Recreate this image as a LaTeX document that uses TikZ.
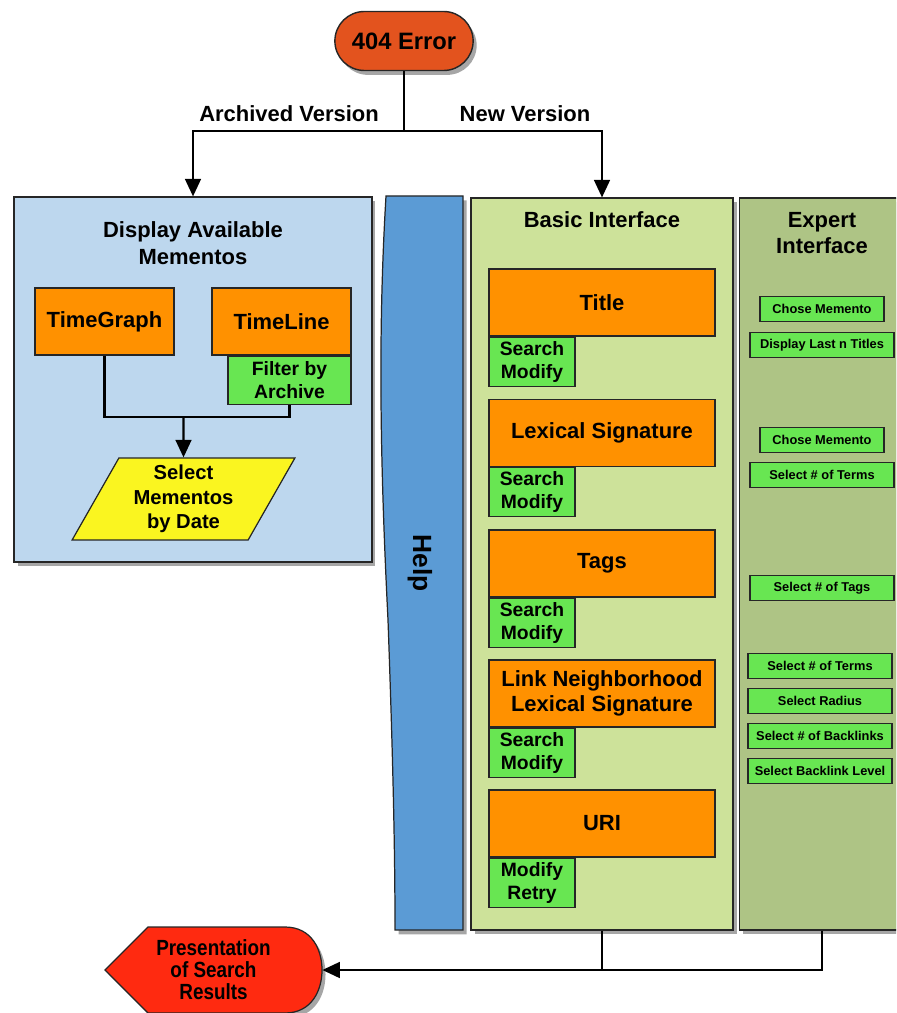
\documentclass[tikz,border=0pt]{standalone}
\usepackage{fontspec}
\setmainfont{Liberation Sans}
\newfontfamily\narrowsans[FakeStretch=0.86]{Liberation Sans}
\usetikzlibrary{arrows.meta, shapes.geometric, shapes.misc, positioning, shadows}

\definecolor{errred}{RGB}{227,83,30}
\definecolor{panelblue}{RGB}{189,215,238}
\definecolor{boxorange}{RGB}{255,145,0}
\definecolor{subgreen}{RGB}{104,230,82}
\definecolor{dateyellow}{RGB}{250,245,32}
\definecolor{helpblue}{RGB}{91,155,213}
\definecolor{basicgreen}{RGB}{205,226,154}
\definecolor{expertgreen}{RGB}{174,196,133}
\definecolor{presred}{RGB}{255,42,16}

\begin{document}
\begin{tikzpicture}[
  x=0.02cm, y=-0.02cm,
  font=\bfseries,
  softshadow/.style={drop shadow={shadow xshift=2pt, shadow yshift=-2.5pt, opacity=0.35, fill=black}},
  panel/.style={draw=black!85, line width=0.7pt, fill=#1, softshadow},
  hdr/.style={font=\fontsize{12.5}{15}\selectfont\bfseries, align=center},
  errbox/.style={rounded rectangle, draw=black!85, line width=0.8pt, fill=errred, softshadow,
                 minimum width=3.0cm, minimum height=1.18cm, font=\fontsize{13.5}{15}\selectfont\bfseries},
  obox/.style={draw=black!85, line width=0.7pt, fill=boxorange, minimum width=#1, minimum height=1.34cm,
               align=center, font=\fontsize{12.5}{14.5}\selectfont\bfseries},
  sub/.style={draw=black!85, line width=0.7pt, fill=subgreen, anchor=north west, minimum width=1.72cm,
              minimum height=0.98cm, inner sep=1pt, align=center, font=\fontsize{11}{13}\selectfont\bfseries},
  item/.style={draw=black!85, line width=0.8pt, fill=subgreen, minimum width=#1, minimum height=0.5cm,
               inner sep=1pt, font=\fontsize{7.3}{8}\selectfont\bfseries},
  item/.default=2.88cm,
  datebox/.style={trapezium, trapezium left angle=62, trapezium right angle=118, trapezium stretches=true,
                  draw=black!85, line width=0.7pt, fill=dateyellow, minimum width=4.5cm, minimum height=1.64cm,
                  align=center, inner sep=0pt, font=\fontsize{11.5}{14}\selectfont\bfseries},
  conn/.style={line width=1.3pt},
  arr/.style={line width=1.3pt, -{Triangle[width=9pt, length=10pt]}},
]
\useasboundingbox (0,0) rectangle (896,1013);
\clip (0,0) rectangle (896,1013);

% start
\node[errbox] (err) at (404,41) {404 Error};

% archived side
\node[panel=panelblue, minimum width=7.16cm, minimum height=7.30cm] (archive) at (193,379.5) {};
\node[hdr] (archivetitle) at (193,243) {Display Available\\Mementos};
\node[obox=2.78cm] (timegraph) at (104.5,321.5) {TimeGraph};
\node[obox=2.78cm] (timeline) at (281.5,321.5) {TimeLine};
\node[sub, anchor=north east, minimum width=2.46cm, minimum height=0.96cm] (filter) at (timeline.south east) {Filter by\\Archive};
\node[datebox] (bydate) at (183.5,499) {Select\\Mementos\\by Date};

\coordinate (merge) at (183.5,417);
\draw[conn] (timegraph.south) |- (merge);
\draw[conn] (filter.south) |- (merge);
\draw[arr] (merge) -- (bydate.north);

% help banner
\filldraw[draw=black!85, line width=0.7pt, fill=helpblue, softshadow]
  (386,196) .. controls (378,330) and (380,460) .. (388,620)
  .. controls (393,760) and (395,850) .. (395,930) -- (463,930) -- (463,196) -- cycle;
\node[rotate=-90, font=\fontsize{15}{18}\selectfont\bfseries] (help) at (420,563) {Help};

% new version side
\node[panel=basicgreen, minimum width=5.24cm, minimum height=14.64cm] (basic) at (602,564) {};
\node[panel=expertgreen, anchor=west, minimum width=4cm, minimum height=14.64cm] (expert) at (739,564) {};

\node[hdr] (basictitle) at (602,220) {Basic Interface};
\node[obox=4.52cm] (title) at (602,302.5) {Title};
\node[sub] (titlesub) at (title.south west) {Search\\Modify};
\node[obox=4.52cm] (lexsig) at (602,433) {Lexical Signature};
\node[sub] (lexsigsub) at (lexsig.south west) {Search\\Modify};
\node[obox=4.52cm] (tags) at (602,563.5) {Tags};
\node[sub] (tagssub) at (tags.south west) {Search\\Modify};
\node[obox=4.52cm] (linksig) at (602,693.5) {Link Neighborhood\\Lexical Signature};
\node[sub] (linksigsub) at (linksig.south west) {Search\\Modify};
\node[obox=4.52cm] (uri) at (602,823.5) {URI};
\node[sub] (urisub) at (uri.south west) {Modify\\Retry};

\node[hdr] (experttitle) at (822,233) {Expert\\Interface};
\node[item=2.48cm] (titlememento) at (822,309) {Chose Memento};
\node[item] (lasttitles) at (822,345) {Display Last n Titles};
\node[item=2.48cm] (lexmemento) at (822,440) {Chose Memento};
\node[item] (lexterms) at (822,475) {Select \# of Terms};
\node[item] (tagcount) at (822,588) {Select \# of Tags};
\node[item] (linkterms) at (820,666) {Select \# of Terms};
\node[item] (linkradius) at (820,701) {Select Radius};
\node[item] (backlinks) at (820,736) {Select \# of Backlinks};
\node[item] (backlevel) at (820,771) {Select Backlink Level};

% branches
\coordinate (split) at (404,131);
\draw[conn] (err.south) -- (split);
\draw[arr] (split) -| (archive.north);
\draw[arr] (split) -| (basic.north);
\node[hdr] (archivedlabel) at (289,114) {Archived Version};
\node[hdr] (newlabel) at (525,114) {New Version};

% results
\filldraw[draw=black!85, line width=0.7pt, fill=presred, softshadow]
  (105,970) -- (148,927) -- (285,927) .. controls (312,927) and (322,950) .. (322,970)
  .. controls (322,990) and (312,1013) .. (285,1013) -- (148,1013) -- cycle;
\node[minimum width=4.34cm, align=center, font=\narrowsans\fontsize{12.5}{12.5}\selectfont\bfseries]
  (pres) at (213.5,970) {Presentation\\of Search\\Results};

\draw[conn] (basic.south) -- (basic.south |- pres.east);
\draw[arr] (expert.south -| experttitle) |- (pres.east);

\end{tikzpicture}
\end{document}
